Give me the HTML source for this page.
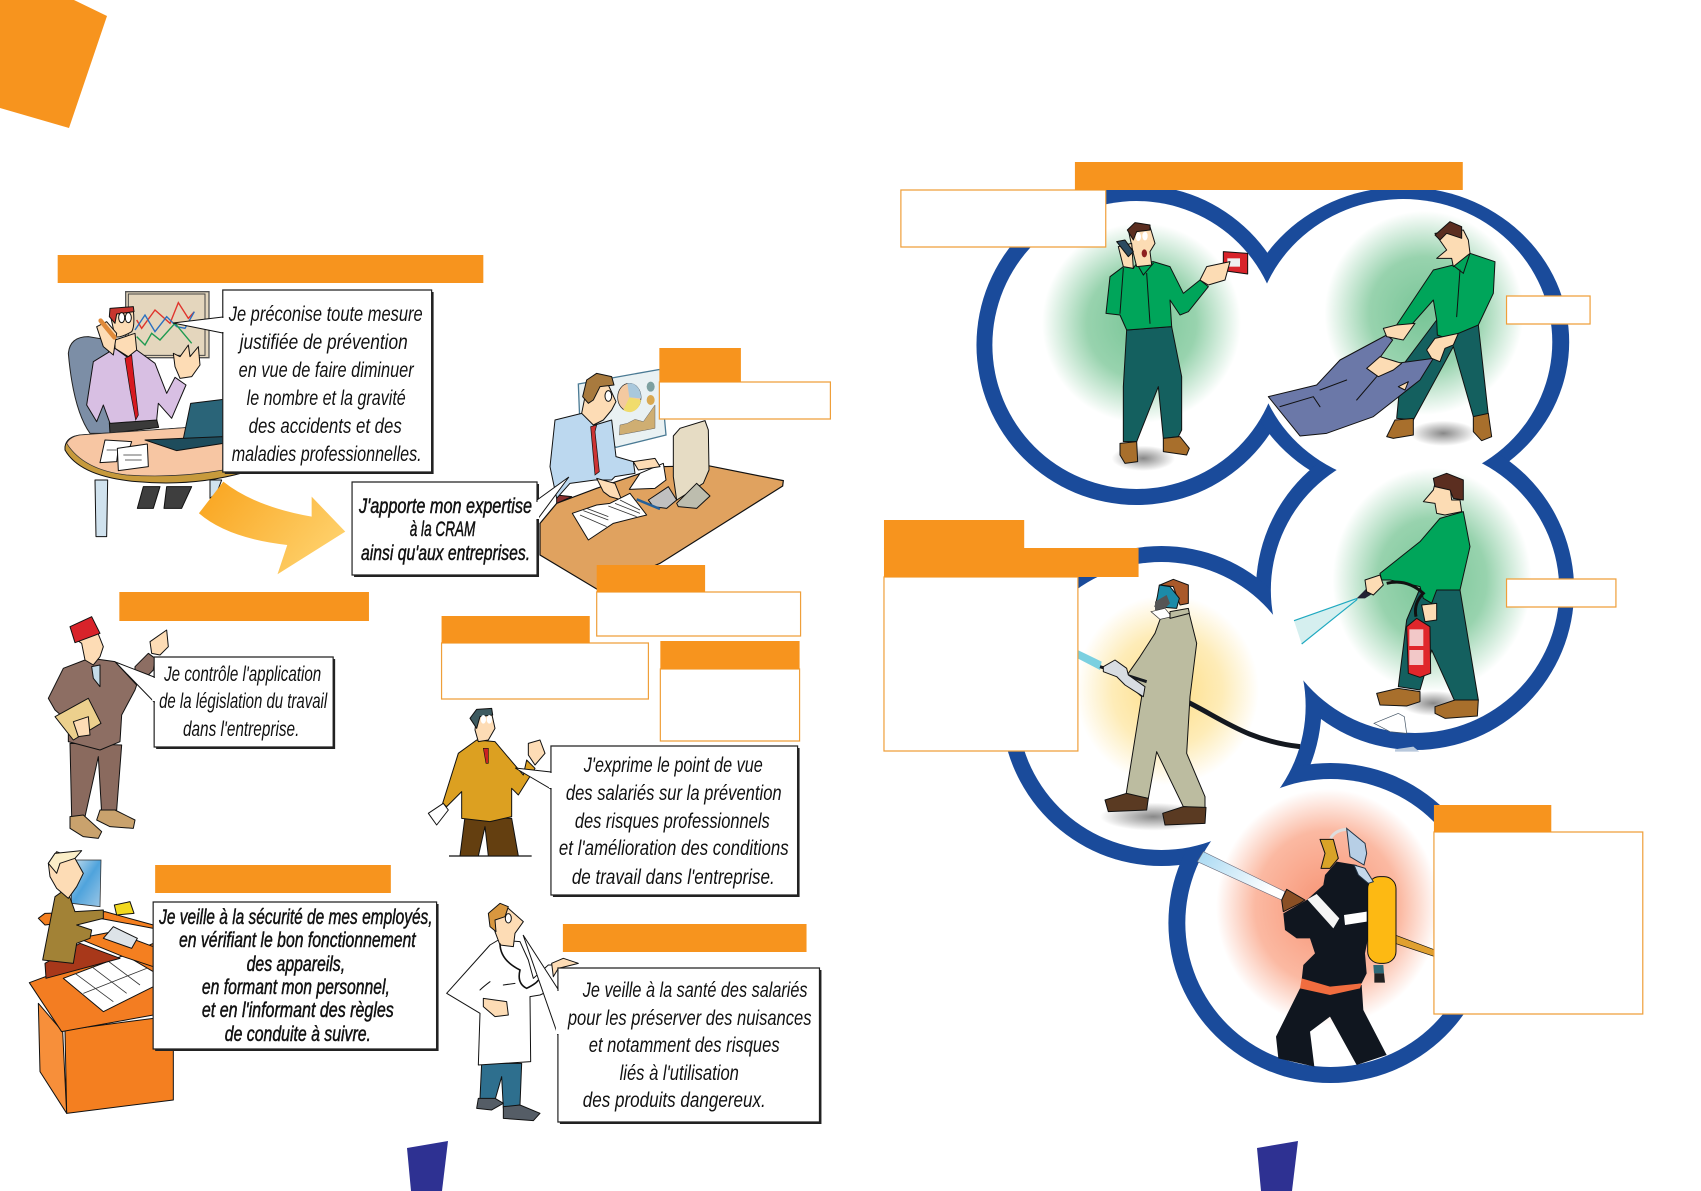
<!DOCTYPE html>
<html><head><meta charset="utf-8"><title>Prévention</title>
<style>
html,body{margin:0;padding:0;background:#fff}
svg{display:block}
svg *{vector-effect:non-scaling-stroke}
.t{font-family:"Liberation Sans",sans-serif;font-style:italic;font-size:21px;fill:#111}
.b{stroke:#111;stroke-width:.5}
.o{fill:#f7941e}
.x{fill:#fff;stroke:#ef9f3a;stroke-width:1.2}
.bub{fill:#fff;stroke:#222;stroke-width:1.2}
.sh{fill:#222}
.k{stroke:#111;stroke-width:1;stroke-linejoin:round}
.l{fill:none;stroke:#111;stroke-width:1;stroke-linecap:round}
</style></head><body>
<svg width="1701" height="1191" viewBox="0 0 1701 1191" xmlns="http://www.w3.org/2000/svg">
<defs>
<radialGradient id="g"><stop offset="0" stop-color="#78c597"/><stop offset=".55" stop-color="#98d3ae"/><stop offset="1" stop-color="#fff"/></radialGradient>
<radialGradient id="y"><stop offset="0" stop-color="#fddc82"/><stop offset=".6" stop-color="#feecb8"/><stop offset="1" stop-color="#fff"/></radialGradient>
<radialGradient id="r"><stop offset="0" stop-color="#f79272"/><stop offset=".65" stop-color="#fbb9a2"/><stop offset="1" stop-color="#fff"/></radialGradient>
<radialGradient id="s"><stop offset="0" stop-color="#888"/><stop offset="1" stop-color="#fff"/></radialGradient>
<linearGradient id="a" x1="0" y1="0" x2="1" y2=".5"><stop offset="0" stop-color="#f9a31c"/><stop offset="1" stop-color="#fecf68"/></linearGradient>
<linearGradient id="w" x1="0" y1="0" x2="1" y2=".5"><stop offset="0" stop-color="#a6d8f2"/><stop offset="1" stop-color="#fff"/></linearGradient>
<linearGradient id="sc" x1="0" y1="0" x2="1" y2="1"><stop offset="0" stop-color="#cfe3ee"/><stop offset=".5" stop-color="#4fa3dc"/><stop offset="1" stop-color="#9cc7e6"/></linearGradient>
</defs>

<polygon class="o" points="74,0 107,16 69,128 0,108 0,0"/>
<polygon fill="#2e3192" points="407,1148 448,1141 442,1191 411,1191"/>
<polygon fill="#2e3192" points="1257,1148 1298,1141 1292,1191 1261,1191"/>

<!-- ring -->
<g transform="translate(880,0) scale(.9945,1) translate(-880,0)">
<g fill="#1a4b9b">
<ellipse cx="1138" cy="345" rx="161" ry="160"/>
<ellipse cx="1406" cy="342" rx="167" ry="155"/>
<ellipse cx="1418" cy="590" rx="160" ry="160"/>
<ellipse cx="1163" cy="706" rx="161" ry="160"/>
<ellipse cx="1333" cy="923" rx="163" ry="160"/>
</g>
<g fill="#fff">
<ellipse cx="1138" cy="345" rx="145" ry="144"/>
<ellipse cx="1406" cy="342" rx="150" ry="143"/>
<ellipse cx="1418" cy="590" rx="145" ry="143"/>
<ellipse cx="1163" cy="706" rx="145" ry="144"/>
<ellipse cx="1333" cy="923" rx="146" ry="144"/>
</g>
<ellipse cx="1143" cy="323" rx="100" ry="100" fill="url(#g)"/>
<ellipse cx="1427" cy="313" rx="100" ry="102" fill="url(#g)"/>
<ellipse cx="1435" cy="580" rx="100" ry="112" fill="url(#g)"/>
<ellipse cx="1169" cy="690" rx="92" ry="95" fill="url(#y)"/>
<ellipse cx="1330" cy="907" rx="112" ry="118" fill="url(#r)"/>
</g>

<!-- man 1, man 2 -->
<g transform="translate(1100,210) scale(.33333)">
<ellipse cx="130" cy="745" rx="95" ry="38" fill="url(#s)"/>
<ellipse cx="1030" cy="670" rx="100" ry="38" fill="url(#s)"/>
<polygon class="k" fill="#14605f" points="80,360 215,350 245,500 245,660 235,680 190,685 175,530 110,695 70,695 70,530"/>
<polygon class="k" fill="#a86f2c" points="60,700 110,695 113,755 75,760 60,735"/>
<polygon class="k" fill="#a86f2c" points="190,685 240,680 268,715 260,735 190,725"/>
<polygon class="k" fill="#00a55a" points="18,310 30,200 70,170 100,175 110,160 160,155 210,170 250,250 300,210 325,230 265,305 240,315 210,270 215,350 80,360 60,315"/>
<path class="l" d="M140,190L150,340M110,160L130,195L160,160M70,175L60,310"/>
<polygon class="k" fill="#d8232a" points="370,125 443,130 443,192 370,182"/>
<rect x="382" y="145" width="38" height="25" fill="#eee"/>
<polygon class="k" fill="#fcdcb4" points="300,210 320,170 390,155 375,210 325,225"/>
<polygon class="k" fill="#fcdcb4" points="85,60 150,50 165,100 150,125 155,165 110,170 100,130"/>
<polygon class="k" fill="#5b2e20" points="82,60 105,38 150,45 150,60 110,65 100,90"/>
<ellipse cx="133" cy="130" rx="8" ry="12" fill="#8f2020"/>
<ellipse cx="115" cy="80" rx="8" ry="13" fill="#fff"/><ellipse cx="135" cy="78" rx="8" ry="13" fill="#fff"/>
<polygon class="k" fill="#fcdcb4" points="55,110 95,100 100,175 70,170"/>
<polygon class="k" fill="#2b4a60" points="50,95 75,90 100,125 85,140"/>

<polygon class="k" fill="#14605f" points="890,625 905,470 1010,330 1135,345 1165,615 1120,620 1060,410 940,630"/>
<polygon class="k" fill="#a86f2c" points="860,680 885,630 940,625 940,675 880,685"/>
<polygon class="k" fill="#a86f2c" points="1120,620 1165,610 1175,680 1145,692 1120,665"/>
<polygon class="k" fill="#00a55a" points="890,345 1000,180 1060,165 1110,130 1185,155 1180,250 1135,345 1040,385 1012,375 1010,330 1000,270 925,355"/>
<path class="l" d="M1080,180L1070,320M1058,165L1090,190L1110,130"/>
<polygon class="k" fill="#fcdcb4" points="1005,70 1090,60 1105,90 1110,130 1060,170 1055,145 1010,145 1040,120"/>
<polygon class="k" fill="#5b2e20" points="1005,75 1050,35 1085,50 1085,85 1040,70 1020,90"/>
<polygon class="k" fill="#6b78a8" points="505,560 650,525 720,450 860,375 878,390 820,470 890,460 1000,445 960,510 820,620 680,670 600,678"/>
<path class="l" d="M540,590L640,560L660,590M660,540L740,510M770,570L830,500"/>
<polygon class="k" fill="#fcdcb4" points="800,475 840,440 905,460 880,480 835,500"/>
<polygon class="k" fill="#fcdcb4" points="895,530 925,515 915,540"/>
<polygon class="k" fill="#fcdcb4" points="850,355 890,345 945,340 910,390 860,380"/>
<polygon class="k" fill="#fcdcb4" points="980,420 1005,385 1075,370 1060,405 1035,415 1020,455 995,445"/>
</g>

<!-- man 3, man 4 -->
<g transform="translate(1070,470) scale(.33333)">
<ellipse cx="1090" cy="700" rx="100" ry="38" fill="url(#s)"/>
<ellipse cx="250" cy="1040" rx="160" ry="42" fill="url(#s)"/>
<polygon fill="#d5efef" points="862,385 672,452 695,522"/>
<path d="M862,385L672,452M862,388L695,522" stroke="#1fa9c0" stroke-width="1.2" fill="none"/>
<polygon class="k" fill="#14605f" points="1050,355 1170,360 1225,690 1155,695 1085,540 1050,660 985,650 1010,450"/>
<polygon class="k" fill="#a86f2c" points="920,670 985,655 1050,665 1050,695 1010,708 930,705"/>
<polygon class="k" fill="#a86f2c" points="1095,710 1155,690 1225,690 1222,738 1125,745 1095,730"/>
<polygon class="k" fill="#00a55a" points="930,310 1050,215 1110,145 1180,125 1200,230 1170,360 1100,360 1085,400 1060,385 1050,350 960,330 935,330"/>
<path d="M950,340Q1010,325 1060,370Q1030,400 1038,440" fill="none" stroke="#111" stroke-width="3"/>
<polygon class="k" fill="#e0272b" points="1010,470 1040,445 1080,470 1082,610 1050,622 1015,610"/>
<rect x="1018" y="478" width="42" height="50" fill="#f2c8c8"/><rect x="1018" y="540" width="42" height="45" fill="#f2c8c8"/>
<polygon class="k" fill="#fcdcb4" points="1055,405 1100,400 1100,450 1065,455"/>
<polygon fill="#223" points="860,385 895,350 925,360 885,385"/>
<polygon class="k" fill="#fcdcb4" points="885,330 930,315 940,345 910,375 890,365"/>
<polygon class="k" fill="#fcdcb4" points="1095,40 1140,50 1145,90 1170,90 1175,125 1125,135 1100,130 1095,100 1060,95 1090,60"/>
<polygon class="k" fill="#5b2e20" points="1090,25 1130,10 1180,30 1180,90 1150,85 1140,60 1095,50"/>
<path d="M320,680C450,740 520,810 690,830" fill="none" stroke="#14181f" stroke-width="5"/>
<polygon class="k" fill="#bcbca0" points="210,560 255,490 275,435 355,420 380,520 360,680 350,850 405,980 405,1015 340,1010 260,845 235,985 168,975 215,680 165,635 175,610"/>
<polygon class="k" fill="#5a3a22" points="105,990 170,970 235,985 230,1020 115,1025"/>
<polygon class="k" fill="#5a3a22" points="278,1030 340,1010 408,1012 405,1060 285,1065"/>
<polygon class="k" fill="#a9592a" points="270,345 310,328 355,345 355,400 330,405 310,350"/>
<polygon class="k" fill="#1b8ba8" points="268,345 300,350 328,385 320,415 255,410 262,380"/>
<polygon fill="#555" points="255,395 290,375 300,400 275,425 255,420"/>
<polygon fill="#fff" stroke="#333" stroke-width=".7" points="243,425 285,415 305,440 270,448"/>
<polygon class="k" fill="#bcbca0" points="300,425 355,415 358,430 300,445"/>
<polygon fill="#7bd0e0" points="23,540 95,575 90,600 23,565"/>
<path d="M90,590L230,635" stroke="#14181f" stroke-width="3"/>
<polygon class="k" fill="#d8dde2" points="100,590 135,570 170,595 175,615 225,650 220,680 165,645 140,620 100,605"/>
<polygon fill="#fff" stroke="#456" stroke-width=".7" points="912,760 985,730 1003,740 1010,790 960,785"/>
<polygon fill="#b8c8dc" points="975,838 1030,830 1048,845 975,845"/>
</g>

<!-- firefighter -->
<g transform="translate(1190,820) scale(.33333)">
<polygon fill="url(#w)" stroke="#667" stroke-width=".6" points="22,125 40,95 285,215 275,240"/>
<polygon fill="#e0a030" stroke="#111" stroke-width=".6" points="615,345 735,390 735,410 615,370"/>
<polygon fill="#10161f" points="330,505 515,495 520,570 590,705 500,735 420,590 360,635 373,740 265,715 258,650"/>
<polygon fill="#10161f" points="280,280 350,240 400,195 405,165 440,125 500,135 540,190 545,300 525,400 530,460 515,490 420,505 335,480 340,435 375,400 360,355 320,355 285,330"/>
<polygon fill="#f16d3f" points="335,475 420,500 515,490 510,505 420,525 330,505"/>
<polygon fill="#f5f5f5" points="352,238 380,222 448,295 430,325"/>
<polygon fill="#fff" points="462,285 530,275 530,305 465,315"/>
<polygon class="k" fill="#8a4f24" points="275,240 290,208 345,240 330,250 280,275"/>
<rect x="533" y="170" width="85" height="260" rx="36" fill="#fdb913" stroke="#111" stroke-width="1"/>
<polygon fill="#2f6a78" points="550,435 580,435 582,460 552,460"/><polygon fill="#222" points="553,460 582,460 585,488 553,488"/>
<path d="M422,55Q435,30 470,28" fill="none" stroke="#ddd" stroke-width="3"/>
<polygon class="k" fill="#d9a328" points="390,58 430,58 445,115 420,145 393,145 405,100"/>
<polygon fill="#b7cfe6" stroke="#234" stroke-width="1" points="470,25 525,70 530,100 522,135 480,110"/>
<polygon fill="#c5d8ea" stroke="#234" stroke-width="1" points="492,135 525,145 550,185 535,190 505,165"/>
</g>

<!-- man at desk -->
<g transform="translate(60,290) scale(.33333)">
<rect x="197" y="5" width="250" height="198" fill="#e4d6bd" stroke="#555" stroke-width="1.3"/>
<rect x="205" y="12" width="230" height="184" fill="none" stroke="#444" stroke-width="1"/>
<polyline fill="none" stroke="#e0342c" stroke-width="1.4" points="230,90 245,115 285,60 330,100 355,38 385,85 403,65"/>
<polyline fill="none" stroke="#2a70c0" stroke-width="1.4" points="225,120 255,75 285,125 320,80 350,110 375,115 403,65"/>
<polyline fill="none" stroke="#1f9a50" stroke-width="1.4" points="230,140 255,165 275,130 300,150 345,100 395,160"/>
<path d="M25,190Q30,140 85,140L145,150L150,430L90,430Q40,360 25,190Z" fill="#7c8ea6" stroke="#222" stroke-width="1"/>
<polygon class="k" fill="#3e3e3e" points="250,590 300,590 280,655 232,655"/>
<polygon class="k" fill="#3e3e3e" points="320,590 395,590 365,655 312,655"/>
<polygon class="k" fill="#d0e2ee" points="105,570 143,570 140,740 108,740"/>
<polygon class="k" fill="#d0e2ee" points="450,570 485,570 470,610 450,625"/>
<polygon class="k" fill="#3a3a3a" points="148,398 290,388 296,412 150,430"/>
<polygon class="k" fill="#d8bfe3" points="80,345 100,215 165,175 200,200 230,180 285,220 320,310 345,262 378,285 335,385 295,340 290,390 150,400 130,345 110,395"/>
<polygon fill="#d71920" stroke="#111" stroke-width=".7" points="195,205 215,195 217,215 235,375 227,390 210,300"/>
<polygon class="k" fill="#fddcb5" points="165,150 225,130 230,180 205,200 165,175"/>
<path d="M150,70L220,60Q225,110 215,125Q180,145 165,140Z" fill="#fddcb5" stroke="#111"/>
<polygon class="k" fill="#c8352e" points="148,80 150,55 220,50 222,65 170,72 165,100"/>
<ellipse cx="185" cy="83" rx="9" ry="15" fill="#fff" stroke="#111"/><ellipse cx="205" cy="83" rx="9" ry="15" fill="#fff" stroke="#111"/>
<polygon class="k" fill="#fddcb5" points="110,110 140,95 170,130 160,195 130,170"/>
<line x1="122" y1="92" x2="163" y2="142" stroke="#e08a3a" stroke-width="4.5" stroke-linecap="round"/>
<polygon class="k" fill="#fddcb5" points="340,190 360,200 385,165 390,200 415,170 420,225 395,260 360,265 345,230"/>
<path d="M15,470Q20,440 60,435L490,405L490,540L550,548Q400,590 230,575Q60,560 15,480Z" fill="#c79a3c" stroke="#111"/>
<path d="M20,460Q30,440 60,435L490,405L490,540Q350,565 200,555Q70,540 20,460Z" fill="#f7c6a3" stroke="#333" stroke-width=".7"/>
<polygon class="k" fill="#2a6478" points="392,340 490,328 490,450 365,470"/>
<polygon class="k" fill="#1e4c5c" points="255,450 365,445 490,440 490,460 350,482"/>
<polygon class="k" fill="#fff" points="135,450 215,455 205,485 175,475 170,515 120,518"/>
<polygon class="k" fill="#fff" points="172,475 262,462 265,530 175,542"/>
<path d="M190,495H245M195,510H245M140,480H170" stroke="#666"/>
</g>

<!-- expert -->
<g transform="translate(540,360) scale(.33333)">
<polygon fill="#e9f1f3" stroke="#4a7a94" stroke-width="1.3" points="115,72 360,28 378,225 228,262 120,200"/>
<ellipse cx="268" cy="112" rx="35" ry="42" fill="#f3c9a0" stroke="#222" stroke-width=".7"/>
<path d="M268,112L262,70A35,42 0 0 1 303,115Z" fill="#a9c8dc"/>
<path d="M268,112L303,120A35,42 0 0 1 250,150Z" fill="#f0dc6c"/>
<ellipse cx="332" cy="80" rx="12" ry="15" fill="#7da0a0"/><ellipse cx="332" cy="120" rx="12" ry="15" fill="#d9a850"/>
<polygon fill="#cfae72" stroke="#666" stroke-width=".5" points="238,225 240,195 262,190 285,178 310,185 345,135 345,205"/>
<polygon fill="#e0a25f" stroke="#111" stroke-width="1.2" points="0,490 50,430 170,385 360,320 505,317 730,362 728,378 360,610 175,690 0,585"/>
<polygon fill="#e6dcc4" stroke="#111" points="400,228 420,205 495,182 505,210 507,330 490,370 410,420 400,350"/>
<polygon class="k" fill="#bdbdae" points="410,430 470,370 510,408 470,445 415,440"/>
<polygon class="k" fill="#c0c0c0" points="325,420 385,380 410,420 380,445 340,440"/>
<polygon class="k" fill="#8a3030" points="50,405 95,410 50,430"/>
<polygon class="k" fill="#bcd8ef" points="45,180 125,160 165,195 215,180 228,290 280,305 285,340 225,350 215,360 165,360 90,370 50,415 30,320"/>
<polygon fill="#c33" stroke="#111" stroke-width=".7" points="152,200 170,195 165,215 178,335 165,345 160,290"/>
<polygon class="k" fill="#fddcb5" points="135,110 160,60 205,75 228,125 215,150 190,180 160,195 125,160"/>
<polygon class="k" fill="#a87a3e" points="128,110 140,60 170,40 215,50 222,75 180,80 160,120 145,130"/>
<ellipse cx="205" cy="108" rx="10" ry="16" fill="#fff" stroke="#111"/>
<polygon class="k" fill="#fff" points="268,388 300,340 370,310 378,360 345,385"/>
<polygon class="k" fill="#fddcb5" points="280,305 345,295 360,320 295,330"/>
<polygon class="k" fill="#fddcb5" points="170,355 225,370 245,420 210,410 190,395"/>
<line x1="290" y1="418" x2="360" y2="447" stroke="#24609a" stroke-width="2.5"/>
<polygon class="k" fill="#fff" points="97,460 170,435 210,430 270,400 320,465 220,490 145,540"/>
<path d="M120,465L200,500M130,452L205,480M140,445L205,470M205,438L290,470M225,430L300,460M240,420L300,450" stroke="#333" stroke-width=".8"/>
</g>

<!-- inspector + employer -->
<g transform="translate(20,610) scale(.33333)">
<polygon class="k" fill="#8a6a5e" points="150,400 305,405 290,600 245,610 235,440 195,620 155,620"/>
<polygon class="k" fill="#c9a26d" points="150,620 190,615 245,665 235,685 190,680 150,655"/>
<polygon class="k" fill="#c9a26d" points="240,600 285,600 345,630 340,655 270,650 230,630"/>
<polygon class="k" fill="#8d6e63" points="345,170 385,130 405,145 400,180 385,195 345,180"/>
<polygon class="k" fill="#8d6e63" points="85,265 130,175 195,150 215,145 285,155 350,225 345,240 305,315 300,395 240,420 145,395 145,335 105,300"/>
<polygon class="k" fill="#c4dbe8" points="215,170 240,165 240,230 220,205"/>
<polygon class="k" fill="#ecd08d" points="105,320 205,265 243,340 160,390"/>
<polygon class="k" fill="#fddcb5" points="160,335 205,320 210,375 175,380"/>
<polygon class="k" fill="#fddcb5" points="170,90 232,65 250,110 240,140 220,165 195,150 185,100"/>
<polygon class="k" fill="#d8232a" points="150,50 215,20 240,70 165,98"/>
<polygon class="k" fill="#fddcb5" points="390,95 440,60 445,110 420,135 395,130"/>

<polygon fill="url(#sc)" stroke="#333" stroke-width=".8" points="150,750 243,750 240,890 155,880"/>
<polygon class="k" fill="#f47f20" points="135,1260 400,1225 400,1315 460,1315 460,1470 140,1510"/>
<polygon class="k" fill="#f78f3a" points="55,1180 128,1265 140,1510 60,1385"/>
<polygon class="k" fill="#f37d22" points="28,1118 130,1080 300,1045 400,1000 400,1215 125,1265"/>
<polygon class="k" fill="#fff" points="130,1105 315,1035 400,1085 400,1130 250,1205"/>
<path d="M165,1090L280,1175M215,1070L320,1150M260,1050L360,1125M190,1150L380,1075" stroke="#333" stroke-width=".8"/>
<polygon class="k" fill="#f47f20" points="55,925 75,910 255,905 400,945 400,955 240,925 75,945"/>
<polygon class="k" fill="#f47f20" points="175,985 280,965 400,1010 400,1070 310,1040"/>
<polygon class="k" fill="#a8381a" points="75,1060 180,1000 300,1045 78,1105"/>
<polygon class="k" fill="#a28236" points="68,1050 105,860 140,835 165,905 250,900 250,925 170,945 215,960 210,985 170,1000 160,1060"/>
<polygon class="k" fill="#fddcb5" points="85,760 110,725 165,745 190,790 170,830 145,865 110,835 90,800"/>
<polygon class="k" fill="#fbeec8" points="85,760 105,730 185,722 165,745 120,760 110,790"/>
<polygon class="k" fill="#f2d91f" points="283,885 330,875 342,910 290,915"/>
<polygon class="k" fill="#dde3e8" points="250,985 280,950 352,985 335,1015"/>
</g>

<!-- salarie + doctor -->
<g transform="translate(420,700) scale(.33333)">
<line x1="87" y1="468" x2="335" y2="468" stroke="#111" stroke-width="1.2"/>
<polygon class="k" fill="#643f10" points="135,350 275,355 295,468 205,468 195,380 175,468 120,468"/>
<polygon class="k" fill="#dca021" points="68,310 115,160 170,120 225,125 280,190 310,225 320,180 345,205 295,285 275,265 275,350 210,365 125,355 125,275 80,320"/>
<polygon fill="#c22" stroke="#111" stroke-width=".6" points="190,145 205,145 205,190 198,190"/>
<polygon class="k" fill="#fff" points="25,340 70,310 85,330 50,375"/>
<polygon class="k" fill="#fddcb5" points="325,130 360,120 375,160 345,195 325,165"/>
<polygon class="k" fill="#fddcb5" points="170,45 215,40 225,85 205,120 175,125 165,90"/>
<polygon class="k" fill="#3d5a60" points="150,55 170,28 215,25 218,45 180,50 170,85"/>
<ellipse cx="190" cy="58" rx="8" ry="13" fill="#fff"/><ellipse cx="208" cy="58" rx="8" ry="13" fill="#fff"/>

<polygon class="k" fill="#2e6f8e" points="185,1090 305,1090 300,1215 250,1225 245,1130 225,1200 180,1195"/>
<polygon class="k" fill="#555d66" points="175,1195 225,1195 250,1210 215,1230 170,1225"/>
<polygon class="k" fill="#555d66" points="250,1220 300,1215 360,1240 340,1262 250,1255"/>
<polygon class="k" fill="#fff" points="80,880 210,735 235,720 300,725 325,780 340,835 385,795 415,795 415,860 360,885 330,890 332,1085 175,1095 180,940"/>
<polygon class="k" fill="#fddcb5" points="215,640 265,625 310,665 285,700 280,740 240,735 225,695"/>
<polygon class="k" fill="#d8973f" points="205,640 240,610 265,620 255,650 225,660 228,695 210,680"/>
<ellipse cx="265" cy="655" rx="9" ry="14" fill="#fff" stroke="#111"/>
<polygon class="k" fill="#fddcb5" points="190,895 260,905 265,945 225,950 190,920"/>
<polygon class="k" fill="#fddcb5" points="395,790 430,775 475,790 415,805 400,830"/>
<path d="M240,730Q240,780 300,810Q290,850 320,865Q350,850 355,840" fill="none" stroke="#111" stroke-width="1.6"/>
<path d="M250,855L285,850M210,845Q190,860 180,870" class="l"/>
</g>

<!-- arrow -->
<g transform="translate(0,230) scale(.542,.3333)">
<path d="M412,755Q470,830 575,860L575,800L637,905L512,1033L530,945Q420,925 367,850Z" fill="url(#a)"/>
</g>

<!-- bubbles and text, left page -->
<g transform="scale(.9945,1)">
<rect class="sh" x="226" y="292" width="210" height="182"/><rect class="bub" x="224" y="290" width="210" height="182"/>
<polygon fill="#fff" stroke="#111" stroke-width="1" points="224,317 174,323 224,333"/><rect x="222" y="318" width="4" height="14" fill="#fff"/>
<rect class="sh" x="356" y="484" width="186" height="93"/><rect class="bub" x="354" y="482" width="186" height="93"/>
<polygon fill="#fff" stroke="#111" stroke-width="1" points="540,500 572,477 540,520"/><rect x="537" y="502" width="5" height="17" fill="#fff"/>
<rect class="sh" x="157" y="659" width="180" height="90"/><rect class="bub" x="155" y="657" width="180" height="90"/>
<polygon fill="#fff" stroke="#111" stroke-width="1" points="155,677 116,662 155,702"/><rect x="153" y="678" width="5" height="23" fill="#fff"/>
<rect class="sh" x="556" y="748" width="248" height="149"/><rect class="bub" x="554" y="746" width="248" height="149"/>
<polygon fill="#fff" stroke="#111" stroke-width="1" points="554,772 518,768 554,789"/><rect x="552" y="773" width="5" height="15" fill="#fff"/>
<rect class="sh" x="156" y="904" width="285" height="147"/><rect class="bub" x="154" y="902" width="285" height="147"/>
<rect class="sh" x="563" y="970" width="263" height="154"/><rect class="bub" x="561" y="968" width="263" height="154"/>
<polygon fill="#fff" stroke="#111" stroke-width="1" points="561,989 526,935 561,1035"/><rect x="559" y="991" width="5" height="43" fill="#fff"/>

<text class="t" x="230" y="321" textLength="195" lengthAdjust="spacingAndGlyphs">Je préconise toute mesure</text>
<text class="t" x="241" y="349" textLength="169" lengthAdjust="spacingAndGlyphs">justifiée de prévention</text>
<text class="t" x="240" y="377" textLength="176" lengthAdjust="spacingAndGlyphs">en vue de faire diminuer</text>
<text class="t" x="248" y="405" textLength="160" lengthAdjust="spacingAndGlyphs">le nombre et la gravité</text>
<text class="t" x="250" y="433" textLength="154" lengthAdjust="spacingAndGlyphs">des accidents et des</text>
<text class="t" x="233" y="461" textLength="191" lengthAdjust="spacingAndGlyphs">maladies professionnelles.</text>

<text class="t b" x="361" y="513" textLength="174" lengthAdjust="spacingAndGlyphs">J'apporte mon expertise</text>
<text class="t b" x="412" y="536" textLength="66" lengthAdjust="spacingAndGlyphs">à la CRAM</text>
<text class="t b" x="363" y="560" textLength="170" lengthAdjust="spacingAndGlyphs">ainsi qu'aux entreprises.</text>

<text class="t" x="165" y="681" textLength="158" lengthAdjust="spacingAndGlyphs">Je contrôle l'application</text>
<text class="t" x="160" y="708" textLength="169" lengthAdjust="spacingAndGlyphs">de la législation du travail</text>
<text class="t" x="184" y="736" textLength="117" lengthAdjust="spacingAndGlyphs">dans l'entreprise.</text>

<text class="t" x="587" y="772" textLength="180" lengthAdjust="spacingAndGlyphs">J'exprime le point de vue</text>
<text class="t" x="569" y="800" textLength="217" lengthAdjust="spacingAndGlyphs">des salariés sur la prévention</text>
<text class="t" x="578" y="828" textLength="196" lengthAdjust="spacingAndGlyphs">des risques professionnels</text>
<text class="t" x="562" y="855" textLength="231" lengthAdjust="spacingAndGlyphs">et l'amélioration des conditions</text>
<text class="t" x="575" y="884" textLength="204" lengthAdjust="spacingAndGlyphs">de travail dans l'entreprise.</text>

<text class="t b" x="160" y="924" textLength="275" lengthAdjust="spacingAndGlyphs">Je veille à la sécurité de mes employés,</text>
<text class="t b" x="180" y="947" textLength="238" lengthAdjust="spacingAndGlyphs">en vérifiant le bon fonctionnement</text>
<text class="t b" x="248" y="971" textLength="99" lengthAdjust="spacingAndGlyphs">des appareils,</text>
<text class="t b" x="203" y="994" textLength="189" lengthAdjust="spacingAndGlyphs">en formant mon personnel,</text>
<text class="t b" x="203" y="1017" textLength="193" lengthAdjust="spacingAndGlyphs">et en l'informant des règles</text>
<text class="t b" x="226" y="1041" textLength="147" lengthAdjust="spacingAndGlyphs">de conduite à suivre.</text>

<text class="t" x="586" y="997" textLength="226" lengthAdjust="spacingAndGlyphs">Je veille à la santé des salariés</text>
<text class="t" x="571" y="1025" textLength="245" lengthAdjust="spacingAndGlyphs">pour les préserver des nuisances</text>
<text class="t" x="592" y="1052" textLength="192" lengthAdjust="spacingAndGlyphs">et notamment des risques</text>
<text class="t" x="623" y="1080" textLength="120" lengthAdjust="spacingAndGlyphs">liés à l'utilisation</text>
<text class="t" x="586" y="1107" textLength="184" lengthAdjust="spacingAndGlyphs">des produits dangereux.</text>

<rect class="o" x="58" y="255" width="428" height="28"/>
<rect class="o" x="120" y="592" width="251" height="29"/>
<rect class="o" x="156" y="865" width="237" height="28"/>
<rect class="o" x="566" y="924" width="245" height="28"/>
<rect class="x" x="663" y="382" width="172" height="37"/><rect class="o" x="663" y="348" width="82" height="34"/>
<rect class="x" x="600" y="592" width="205" height="44"/><rect class="o" x="600" y="565" width="109" height="27"/>
<rect class="x" x="444" y="643" width="208" height="56"/><rect class="o" x="444" y="616" width="149" height="27"/>
<rect class="x" x="664" y="669" width="140" height="72"/><rect class="o" x="664" y="641" width="140" height="28"/>
</g>

<!-- right page boxes -->
<g transform="translate(880,0) scale(.9945,1) translate(-880,0)">
<rect class="x" x="901" y="190" width="206" height="57"/><rect class="o" x="1076" y="162" width="390" height="28"/>
<rect class="x" x="1510" y="296" width="84" height="28"/>
<rect class="x" x="1510" y="579" width="110" height="28"/>
<rect class="x" x="884" y="577" width="195" height="174"/>
<rect class="o" x="884" y="520" width="141" height="29"/><rect class="o" x="884" y="548" width="256" height="29"/>
<rect class="x" x="1437" y="832" width="210" height="182"/><rect class="o" x="1437" y="805" width="118" height="27"/>
</g>
</svg>
</body></html>
